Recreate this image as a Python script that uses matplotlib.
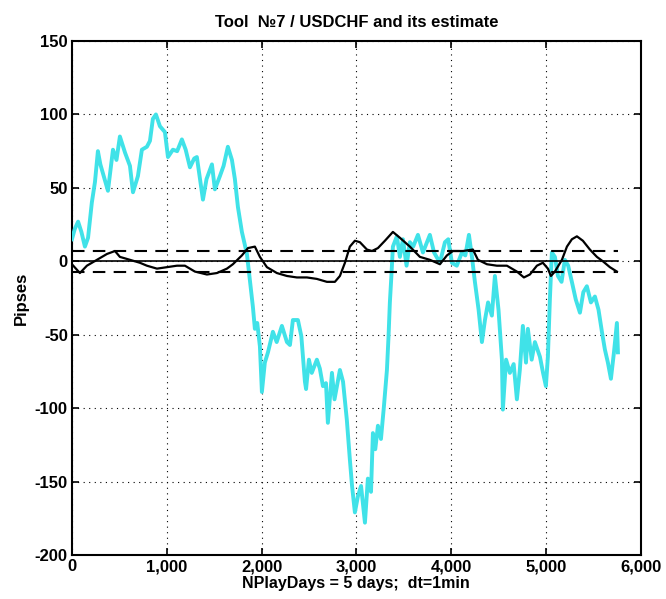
import matplotlib
matplotlib.use("Agg")
import matplotlib.pyplot as plt
from matplotlib.ticker import FuncFormatter

plt.rcParams['font.family'] = ['Liberation Sans', 'DejaVu Sans']
plt.rcParams['axes.unicode_minus'] = False

title = "Tool  \u21167 / USDCHF and its estimate"
xlabel = "NPlayDays = 5 days;  dt=1min"
ylabel = "Pipses"

cyan_x = [0, 30, 65, 100, 137, 170, 210, 243, 274, 300, 327, 380, 433, 470, 506, 560, 612, 644,
          696, 738, 791, 823, 854, 886, 928, 981, 1013, 1065, 1110, 1160, 1200, 1245, 1290, 1318,
          1382, 1420, 1477, 1508, 1561, 1600, 1645, 1688, 1719, 1751, 1793, 1846, 1878, 1909, 1930,
          1955, 1983, 2004, 2035, 2068, 2120, 2160, 2215, 2268, 2300, 2331, 2384, 2420, 2458, 2470,
          2500, 2530, 2584, 2615, 2648, 2680, 2700, 2743, 2770, 2827, 2860, 2900, 2932, 2955, 2985,
          3017, 3050, 3091, 3122, 3155, 3175, 3200, 3228, 3260, 3291, 3323, 3340, 3354, 3370, 3386,
          3428, 3460, 3492, 3530, 3565, 3600, 3650, 3703, 3776, 3820, 3882, 3935, 3970, 4008, 4060,
          4114, 4150, 4188, 4220, 4251, 4290, 4325, 4357, 4390, 4430, 4462, 4500, 4536, 4546, 4580,
          4620, 4660, 4694, 4725, 4757, 4790, 4810, 4850, 4884, 4937, 4970, 5000, 5021, 5042, 5063,
          5095, 5127, 5165, 5200, 5235, 5274, 5315, 5359, 5395, 5432, 5475, 5517, 5555, 5591, 5622,
          5654, 5686, 5718, 5749, 5760]
cyan_y = [15, 22, 27, 20, 10, 16, 40, 54, 75, 66, 60, 48, 76, 69, 85, 74, 65, 47,
          58, 76, 78, 82, 97, 100, 92, 88, 71, 76, 75, 83, 76, 64, 70, 71,
          42, 56, 66, 49, 58, 65, 78, 69, 56, 37, 20, 5, -13, -31, -46,
          -42, -58, -89, -69, -62, -48, -55, -44, -55, -57, -40, -40, -51, -82, -87,
          -67, -76, -67, -73, -85, -83, -110, -76, -94, -74, -82, -108, -135, -153, -171,
          -160, -153, -178, -148, -157, -117, -128, -112, -121, -99, -74, -51, -28, -10, 10,
          17, 3, 15, -3, 13, 10, 18, 6, 18, 6, -1, 13, 15, -1, -3,
          6, 4, 18, 3, -14, -33, -55, -40, -28, -37, -10, -33, -67, -101, -67,
          -76, -70, -94, -74, -44, -69, -46, -67, -55, -65, -76, -85, -65, -26, 6,
          3, -10, -14, 1, -3, -14, -26, -35, -21, -17, -28, -24, -33, -48, -60,
          -69, -80, -62, -42, -62]

est_x = [0, 84, 158, 264, 370, 454, 506, 612, 717, 791, 897, 1002, 1108, 1192, 1297, 1424, 1530,
         1635, 1698, 1793, 1857, 1930, 1983, 2057, 2162, 2268, 2373, 2479, 2584, 2690, 2774, 2827,
         2880, 2932, 2985, 3038, 3112, 3165, 3228, 3302, 3386, 3460, 3565, 3671, 3776, 3882, 3956,
         4019, 4125, 4230, 4283, 4378, 4483, 4589, 4694, 4768, 4831, 4905, 4968, 5021, 5053, 5095,
         5169, 5222, 5274, 5327, 5390, 5464, 5538, 5601, 5675, 5749]
est_y = [-2, -8, -3, 1, 5, 7, 3, 1, -1, -3, -5, -4, -3, -3, -7, -9, -8,
         -5, -2, 4, 9, 10, 3, -4, -8, -10, -11, -11, -12, -14, -14, -10,
         -1, 10, 14, 13, 8, 7, 9, 14, 20, 16, 10, 3, 1, -2, 4,
         7, 7, 8, 1, -2, -3, -3, -7, -11, -9, -3, -1, -5, -10, -7,
         1, 10, 15, 17, 14, 8, 3, 0, -4, -7]

band = 7
x_end = 5760
xticks = [0, 1000, 2000, 3000, 4000, 5000, 6000]
yticks = [-200, -150, -100, -50, 0, 50, 100, 150]

fig = plt.figure(figsize=(6.66, 5.99), dpi=100)
ax = fig.add_axes([0.108, 0.0735, 0.854, 0.858])

ax.plot(cyan_x, cyan_y, color='#40E2E8', lw=2.8, zorder=3)
ax.plot([0, x_end], [band, band], color='black', lw=1.5, ls=(0, (6, 4)), zorder=4)
ax.plot([0, x_end], [-band, -band], color='black', lw=1.5, ls=(0, (6, 4)), zorder=4)
ax.plot([0, x_end], [0, 0], color='black', lw=1.2, zorder=4)
ax.plot(est_x, est_y, color='black', lw=1.6, zorder=5)

ax.set_xlim(0, 6000)
ax.set_ylim(-200, 150)
ax.set_xticks(xticks)
ax.set_yticks(yticks)
ax.xaxis.set_major_formatter(FuncFormatter(lambda v, p: f"{int(v):,}"))
ax.yaxis.set_major_formatter(FuncFormatter(lambda v, p: f"{int(v)}"))
ax.grid(True, color='black', ls=(0, (1, 4)), lw=0.8)
ax.tick_params(direction='in', top=True, right=True, length=5, width=1.2,
               labelsize=12, pad=3)
for lab in ax.get_xticklabels() + ax.get_yticklabels():
    lab.set_fontweight('bold')
for s in ax.spines.values():
    s.set_linewidth(1.5)

ax.set_title(title, fontsize=12, fontweight='bold', pad=10)
ax.set_xlabel(xlabel, fontsize=11.5, fontweight='bold', labelpad=1)
ax.set_ylabel(ylabel, fontsize=12, fontweight='bold', labelpad=4)

fig.savefig("out.png", dpi=100)
